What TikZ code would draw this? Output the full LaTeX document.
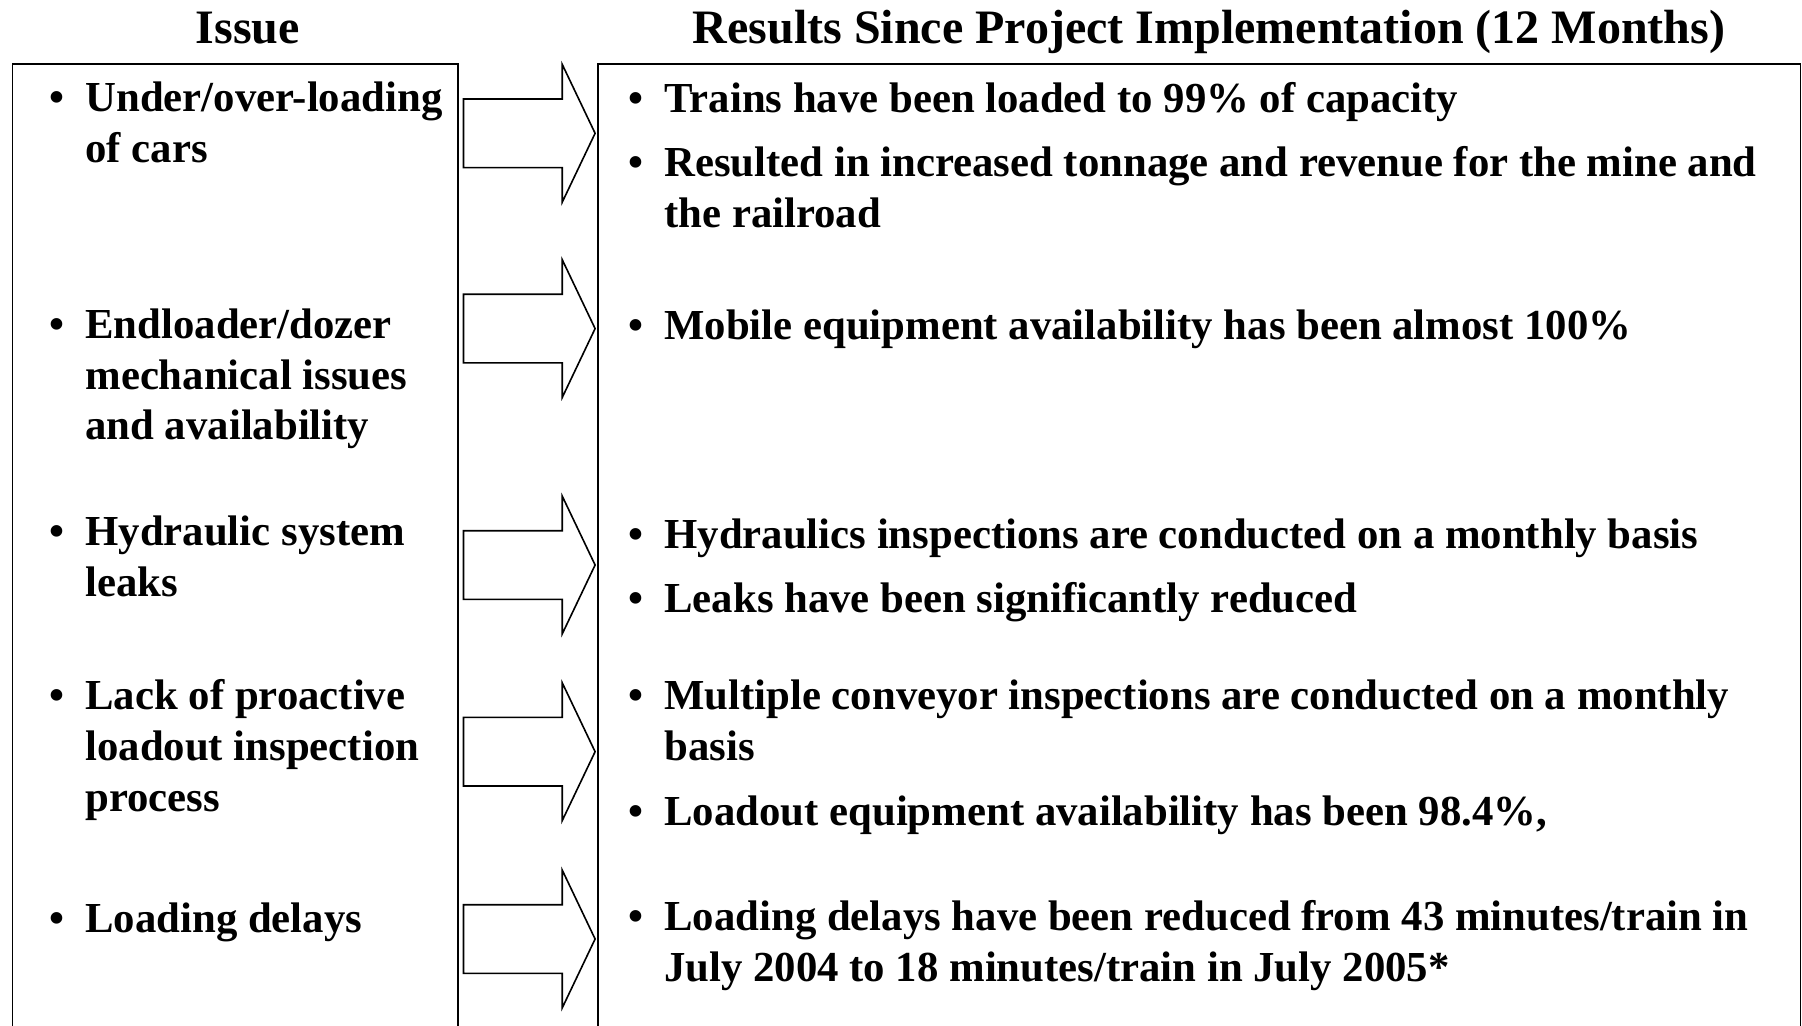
\documentclass[tikz,border=0pt]{standalone}
\usepackage{fontspec}
\setmainfont{Liberation Serif}
\usetikzlibrary{shapes.arrows}

\begin{document}
\begin{tikzpicture}[x=0.5pt,y=-0.5pt,
        col box/.style={draw,line width=0.8pt,anchor=north west,inner sep=0pt},
        head/.style={anchor=base,inner sep=0pt,font=\fontsize{24}{28}\selectfont\bfseries},
        item/.style={anchor=base west,inner sep=0pt,text width=#1,
            font=\fontsize{21.38}{25.5}\selectfont\bfseries,
            execute at begin node={\raggedright\spaceskip=0pt\xspaceskip=0pt
                \hangindent=18pt\hangafter=1\makebox[18pt][l]{\textbullet}}},
        block arrow/.style={single arrow,draw,line width=0.8pt,anchor=tail,
            inner xsep=0pt,inner ysep=16.75pt,minimum height=65.8pt,
            single arrow head extend=17.25pt,single arrow tip angle=129}]

    \path[use as bounding box,fill=white] (0,0) rectangle (1802,1026);
    \clip (0,0) rectangle (1802,1026);

    % titles
    \node[head] (t1) at (248,43.5) {Issue};
    \node[head] (t2) at (1209,43.5) {Results Since Project Implementation (12 Months)};

    % the two columns, open at the bottom
    \node[col box,minimum width=222.9pt,minimum height=490pt] (issue) at (11.5,63.3) {};
    \node[col box,minimum width=601.1pt,minimum height=490pt] (results) at (597.3,63.3) {};

    % issues
    \node[item=205pt] (i1) at (49,111.5) {Under/over-loading\newline of cars};
    \node[item=205pt] (i2) at (49,338) {Endloader/dozer\newline mechanical issues\newline and availability};
    \node[item=205pt] (i3) at (49,545) {Hydraulic system\newline leaks};
    \node[item=205pt] (i4) at (49,709) {Lack of proactive\newline loadout inspection\newline process};
    \node[item=205pt] (i5) at (49,932) {Loading delays};

    % results
    \node[item=580pt] (r1) at (628,112.6) {Trains have been loaded to 99\% of capacity};
    \node[item=580pt] (r2) at (628,177) {Resulted in increased tonnage and revenue for the mine and\newline the railroad};
    \node[item=580pt] (r3) at (628,340) {Mobile equipment availability has been almost 100\%};
    \node[item=580pt] (r4) at (628,548) {Hydraulics inspections are conducted on a monthly basis};
    \node[item=580pt] (r5) at (628,612.5) {Leaks have been significantly reduced};
    \node[item=580pt] (r6) at (628,709) {Multiple conveyor inspections are conducted on a monthly\newline basis};
    \node[item=580pt] (r7) at (628,825) {Loadout equipment availability has been 98.4\%,};
    \node[item=580pt] (r8) at (628,930) {Loading delays have been reduced from 43 minutes/train in\newline July 2004 to 18 minutes/train in July 2005*};

    % arrows between the columns
    \node[block arrow] (a1) at (462.7,133.3) {};
    \node[block arrow] (a2) at (462.7,328.6) {};
    \node[block arrow] (a3) at (462.7,565) {};
    \node[block arrow] (a4) at (462.7,751.7) {};
    \node[block arrow] (a5) at (462.7,939) {};
\end{tikzpicture}
\end{document}
